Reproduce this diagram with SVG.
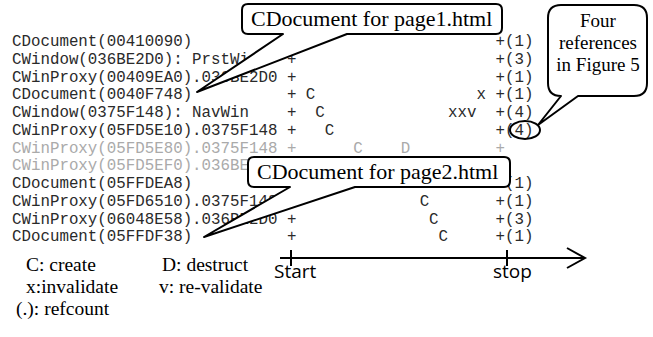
<svg xmlns="http://www.w3.org/2000/svg" width="653" height="337" viewBox="0 0 653 337">
<defs>
<style>
.m{font-family:"Liberation Mono","Courier New",monospace;font-size:15.8px;fill:#2a2a2a;white-space:pre}
.g{fill:#aaa}
.s{font-family:"Liberation Serif","Times New Roman",serif;fill:#000}
.c{font-size:22px}
.f{font-size:19px;text-anchor:middle}
.l{font-size:19.5px}
.a{font-family:"Open Sans","Noto Sans",sans-serif;font-size:19px;fill:#000}
.co{fill:#fff;stroke:#000;stroke-width:2;stroke-linejoin:round}
.ln{stroke:#000;stroke-width:2;fill:none}
</style>
</defs>
<g id="rows">
<text class="m" x="12" y="46">CDocument(00410090)</text>
<text class="m" x="495.5" y="46">+(1)</text>
<text class="m" x="12" y="64">CWindow(036BE2D0): PrstWin   +                     +(3)</text>
<text class="m" x="12" y="81.5">CWinProxy(00409EA0).036BE2D0 +                     +(1)</text>
<text class="m" x="12" y="99.3">CDocument(0040F748)          + C                 x +(1)</text>
<text class="m" x="12" y="117">CWindow(0375F148): NavWin    +  C             xxv  +(4)</text>
<text class="m" x="12" y="134.8">CWinProxy(05FD5E10).0375F148 +   C                 +(4)</text>
<text class="m g" x="12" y="152.5">CWinProxy(05FD5E80).0375F148 +      C    D         +</text>
<text class="m g" x="12" y="170.3">CWinProxy(05FD5EF0).036BE</text>
<text class="m" x="12" y="188">CDocument(05FFDEA8)</text>
<text class="m" x="505" y="188">(1)</text>
<text class="m" x="12" y="205.7">CWinProxy(05FD6510).0375F148 +             C       +(1)</text>
<text class="m" x="12" y="223.5">CWinProxy(06048E58).036BE2D0 +              C      +(3)</text>
<text class="m" x="12" y="241.2">CDocument(05FFDF38)          +               C     +(1)</text>
</g>
<g id="callout-page1">
<path class="co" d="M248,4 H496 Q502,4 502,10 V28 Q502,34 496,34 H347 L197,92 L283,34 H248 Q242,34 242,28 V10 Q242,4 248,4 Z"/>
<text class="s c" x="251" y="26">CDocument for page1.html</text>
</g>
<g id="callout-page2">
<path class="co" d="M254,157 H504 Q510,157 510,163 V181 Q510,187 504,187 H355 L204,237 L290,187 H254 Q248,187 248,181 V163 Q248,157 254,157 Z"/>
<text class="s c" x="257" y="179">CDocument for page2.html</text>
</g>
<g id="callout-four">
<path class="co" d="M561,5 H634 Q647,5 647,18 V83 Q647,96 634,96 H578 L538,125 L561,96 Q548,96 548,83 V18 Q548,5 561,5 Z"/>
<text class="s f" x="598" y="27">Four</text>
<text class="s f" x="598" y="49">references</text>
<text class="s f" x="598" y="71">in Figure 5</text>
</g>
<g id="circle">
<ellipse cx="525" cy="130" rx="15" ry="9" class="ln"/>
</g>
<g id="timeline">
<path class="ln" d="M280,258 H585 M567,248 L585,258 L567,268 M291,250 V266 M507,250 V266"/>
<text class="a" x="274" y="278">Start</text>
<text class="a" x="493" y="278">stop</text>
</g>
<g id="legend">
<text class="s l" x="26" y="271">C: create</text>
<text class="s l" x="162" y="271">D: destruct</text>
<text class="s l" x="26" y="293">x:invalidate</text>
<text class="s l" x="159" y="293">v: re-validate</text>
<text class="s l" x="16" y="315">(.): refcount</text>
</g>
</svg>
